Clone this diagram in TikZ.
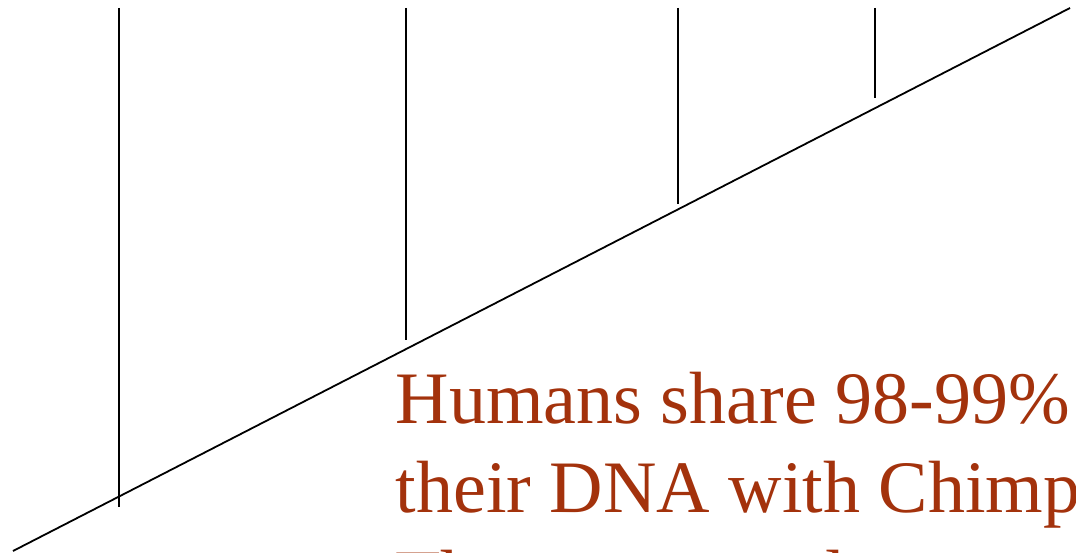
\documentclass[tikz,border=0pt]{standalone}
\usepackage{fontspec}
\setmainfont{Liberation Serif}
\definecolor{slidetext}{RGB}{163,50,12}
\begin{document}
\begin{tikzpicture}[x=1pt,y=-1pt,
  branch/.style={draw=black,line width=1.8pt},
  bodytext/.style={text=slidetext,inner sep=0pt,anchor=base west,font=\fontsize{74}{89}\selectfont}]
\useasboundingbox (0,0) rectangle (1076,553);
\clip (0,0) rectangle (1076,553);
% main diagonal
\coordinate (root) at (13,551);
\coordinate (tip) at (1070,8);
\draw[branch] (root) -- (tip);
% vertical branches
\coordinate (t1) at (119,8);   \coordinate (b1) at (119,507);
\coordinate (t2) at (406,8);   \coordinate (b2) at (406,340);
\coordinate (t3) at (678,8);   \coordinate (b3) at (678,204);
\coordinate (t4) at (875,8);   \coordinate (b4) at (875,98);
\draw[branch] (t1) -- (b1);
\draw[branch] (t2) -- (b2);
\draw[branch] (t3) -- (b3);
\draw[branch] (t4) -- (b4);
% text (cut off at the right and bottom edges, as in the reference)
\node[bodytext] (l1) at (395.5,423) {Humans share 98-99\%};
\node[bodytext] (l2) at (395.5,512) {their DNA with Chimp};
\node[bodytext] (l3) at (395.5,601) {They are our closest};
\end{tikzpicture}
\end{document}
